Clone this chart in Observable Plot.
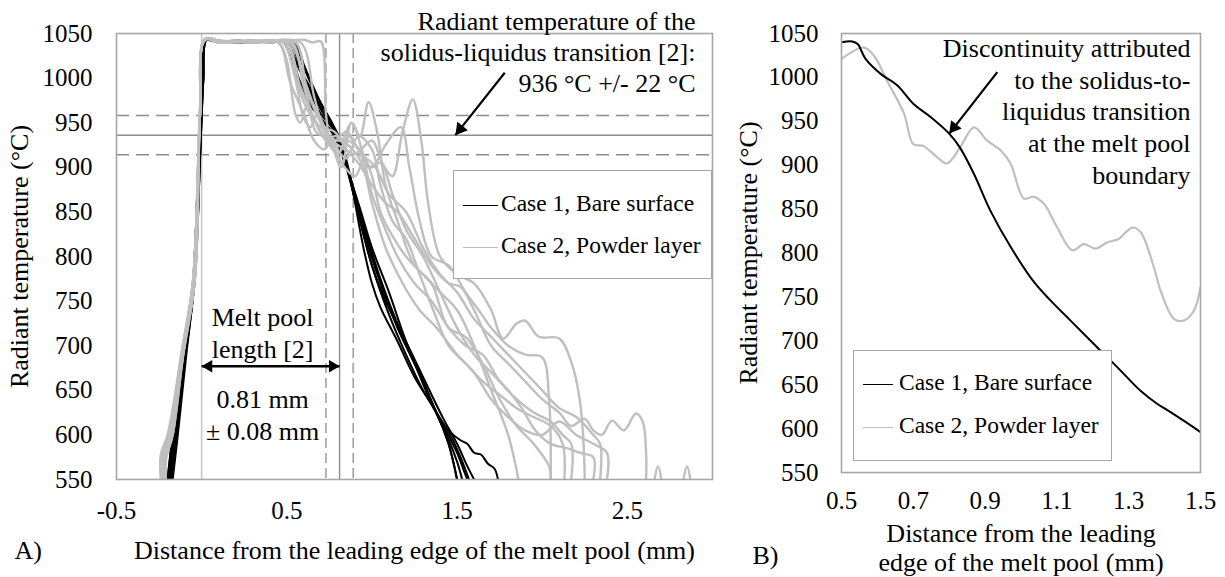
<!DOCTYPE html>
<html><head><meta charset="utf-8">
<script src="https://cdn.jsdelivr.net/npm/d3@7"></script>
<script src="https://cdn.jsdelivr.net/npm/@observablehq/plot@0.6"></script>
<style>
body{margin:0;background:#fff;}
#wrap{position:relative;width:1225px;height:577px;overflow:hidden;font-family:"Liberation Serif","Times New Roman",serif;background:#fff;}
.panel{position:absolute;top:0;}
.legend{position:absolute;box-sizing:border-box;border:1.5px solid #a6a6a6;background:#fff;font-size:23.5px;color:#000;}
.row{position:absolute;left:0;white-space:nowrap;line-height:1;}
.swatch{display:inline-block;vertical-align:middle;height:0;border-top-style:solid;}
</style></head>
<body><div id="wrap"></div>
<script>
// ---------- tick labels / categories ----------
const xTicksA = [-0.5, 0.5, 1.5, 2.5];
const xTicksB = [0.5, 0.7, 0.9, 1.1, 1.3, 1.5];
const yTicks = [550, 600, 650, 700, 750, 800, 850, 900, 950, 1000, 1050];
const seriesNames = ["Case 1, Bare surface", "Case 2, Powder layer"];
const seriesColors = ["#000000", "#bfbfbf"];

// ---------- reference values ----------
const solidusT = 936, solidusErr = 22;
const meltLength = 0.81, meltErr = 0.08, leadingEdge = 0;

// ---------- Panel A, Case 1 (bare surface) runs: [x mm, T °C] ----------
const case1_run1 = [[-0.2,550],[-0.17,600],[-0.11,680],[-0.05,775],[-0.02,900],[0.0,990],[0.02,1043],[0.1,1041],[0.2,1042],[0.3,1040],[0.4,1042],[0.5,1041],[0.53,1030],[0.6,1000],[0.7,965],[0.8,935],[0.85,905],[0.9,865],[1.0,790],[1.1,735],[1.2,690],[1.3,650],[1.38,624],[1.45,590],[1.5,550]];
const case1_run2 = [[-0.19,550],[-0.16,600],[-0.1,685],[-0.05,770],[-0.02,905],[0.0,995],[0.02,1043],[0.1,1042],[0.2,1040],[0.3,1041],[0.4,1040],[0.5,1040],[0.55,1020],[0.62,990],[0.7,960],[0.78,940],[0.85,900],[0.92,850],[1.0,800],[1.1,745],[1.2,700],[1.3,660],[1.38,624],[1.45,595],[1.5,570],[1.53,550]];
const case1_run3 = [[-0.18,550],[-0.15,600],[-0.1,680],[-0.04,775],[-0.01,910],[0.01,1000],[0.03,1043],[0.1,1041],[0.2,1041],[0.3,1042],[0.4,1040],[0.52,1040],[0.58,1010],[0.65,985],[0.72,960],[0.8,935],[0.87,890],[0.95,830],[1.05,770],[1.15,720],[1.25,680],[1.35,635],[1.42,610],[1.5,580],[1.54,560],[1.56,550]];
const case1_run4 = [[-0.2,550],[-0.17,600],[-0.11,685],[-0.05,772],[-0.02,900],[0.0,992],[0.02,1042],[0.1,1040],[0.2,1042],[0.3,1041],[0.4,1041],[0.48,1040],[0.55,1005],[0.62,975],[0.7,955],[0.78,935],[0.84,905],[0.92,860],[1.0,810],[1.1,760],[1.2,705],[1.3,660],[1.38,625],[1.46,600],[1.52,575],[1.57,550]];
const case1_run5 = [[-0.17,550],[-0.14,600],[-0.09,690],[-0.04,778],[-0.01,905],[0.01,998],[0.03,1044],[0.1,1042],[0.2,1041],[0.3,1040],[0.4,1041],[0.5,1040],[0.57,1000],[0.64,970],[0.72,950],[0.8,930],[0.86,895],[0.93,840],[1.0,790],[1.08,750],[1.18,712],[1.28,670],[1.38,625],[1.45,605],[1.52,594],[1.56,590],[1.6,580],[1.64,578],[1.68,568],[1.72,562],[1.74,550]];
const case1_run6 = [[-0.19,550],[-0.16,600],[-0.1,682],[-0.05,770],[-0.02,902],[0.0,993],[0.02,1043],[0.1,1042],[0.2,1040],[0.3,1041],[0.4,1042],[0.55,1040],[0.6,1015],[0.68,980],[0.76,950],[0.82,925],[0.88,880],[0.95,810],[1.0,770],[1.05,743],[1.15,705],[1.25,665],[1.38,624],[1.45,590],[1.5,550]];
const case1_run7 = [[-0.18,550],[-0.15,600],[-0.1,684],[-0.04,774],[-0.01,908],[0.01,997],[0.03,1043],[0.1,1040],[0.2,1042],[0.3,1040],[0.4,1041],[0.54,1040],[0.6,1012],[0.68,978],[0.76,952],[0.82,928],[0.88,885],[0.96,830],[1.05,775],[1.15,725],[1.25,685],[1.35,645],[1.42,618],[1.5,590],[1.56,565],[1.6,550]];

// ---------- Panel A, Case 2 (powder layer) runs ----------
const case2_run1 = [[-0.24,550],[-0.24,578],[-0.2,600],[-0.12,690],[-0.05,775],[-0.01,960],[0.02,1044],[0.1,1040],[0.2,1042],[0.3,1040],[0.4,1041],[0.5,1042],[0.6,1043],[0.65,1040],[0.7,1041],[0.73,960],[0.76,925],[0.8,915],[0.85,930],[0.9,925],[0.95,915],[1.0,890],[1.05,850],[1.1,830],[1.2,800],[1.3,780],[1.4,760],[1.5,740],[1.6,700],[1.7,650],[1.8,600],[1.85,560],[1.86,550]];
const case2_run2 = [[-0.23,550],[-0.23,575],[-0.19,600],[-0.12,688],[-0.05,772],[-0.01,958],[0.02,1043],[0.1,1041],[0.2,1040],[0.3,1042],[0.45,1040],[0.5,1020],[0.55,960],[0.58,950],[0.62,970],[0.67,940],[0.75,930],[0.82,900],[0.88,950],[0.93,935],[0.98,973],[1.03,940],[1.08,880],[1.15,840],[1.25,790],[1.35,770],[1.45,720],[1.55,710],[1.65,680],[1.75,640],[1.85,610],[1.95,590],[2.04,565],[2.05,550]];
const case2_run3 = [[-0.22,550],[-0.22,574],[-0.18,600],[-0.11,690],[-0.04,776],[-0.01,962],[0.02,1044],[0.1,1042],[0.2,1041],[0.3,1040],[0.4,1042],[0.5,1040],[0.58,990],[0.65,960],[0.72,935],[0.8,925],[0.9,915],[1.0,930],[1.06,905],[1.12,890],[1.18,940],[1.24,976],[1.29,930],[1.33,860],[1.4,800],[1.5,780],[1.6,770],[1.7,740],[1.77,708],[1.85,725],[1.9,728],[1.98,710],[2.1,708],[2.18,676],[2.22,640],[2.24,600],[2.25,550]];
const case2_run4 = [[-0.21,550],[-0.21,572],[-0.17,600],[-0.11,688],[-0.04,774],[-0.01,960],[0.02,1043],[0.1,1040],[0.2,1041],[0.3,1042],[0.4,1040],[0.52,1040],[0.6,1000],[0.7,950],[0.78,930],[0.85,940],[0.92,920],[1.0,900],[1.08,925],[1.17,945],[1.22,900],[1.28,840],[1.35,800],[1.45,790],[1.55,760],[1.63,739],[1.7,720],[1.8,700],[1.9,690],[2.0,687],[2.04,640],[2.05,550]];
const case2_run5 = [[-0.22,550],[-0.22,576],[-0.18,600],[-0.12,686],[-0.05,770],[-0.01,957],[0.02,1043],[0.1,1041],[0.2,1040],[0.3,1041],[0.4,1042],[0.55,1040],[0.62,985],[0.7,950],[0.78,925],[0.85,910],[0.92,935],[1.0,920],[1.05,880],[1.12,840],[1.2,820],[1.28,780],[1.36,740],[1.45,700],[1.55,680],[1.65,660],[1.75,645],[1.85,630],[1.95,620],[2.05,610],[2.12,590],[2.13,550]];
const case2_run6 = [[-0.23,550],[-0.23,577],[-0.19,600],[-0.12,689],[-0.05,773],[-0.01,959],[0.02,1044],[0.1,1042],[0.2,1041],[0.3,1040],[0.4,1041],[0.48,1040],[0.55,1000],[0.62,965],[0.7,945],[0.78,940],[0.85,920],[0.92,905],[1.0,880],[1.08,860],[1.15,850],[1.25,820],[1.35,790],[1.45,770],[1.52,766],[1.6,740],[1.7,700],[1.8,680],[1.9,660],[2.0,640],[2.1,625],[2.17,610],[2.25,618],[2.3,605],[2.35,600],[2.41,616],[2.48,605],[2.55,624],[2.59,615],[2.61,580],[2.61,550]];
const case2_run7 = [[-0.22,550],[-0.22,575],[-0.18,600],[-0.11,689],[-0.05,771],[-0.01,958],[0.02,1043],[0.1,1040],[0.2,1042],[0.3,1041],[0.4,1040],[0.5,1040],[0.56,990],[0.6,955],[0.64,945],[0.68,960],[0.75,935],[0.82,930],[0.88,950],[0.94,920],[1.0,870],[1.08,830],[1.15,800],[1.25,770],[1.35,750],[1.45,720],[1.55,700],[1.65,690],[1.75,660],[1.85,640],[1.95,625],[2.05,615],[2.12,600],[2.17,590],[2.17,550]];
const case2_run8 = [[-0.21,550],[-0.21,573],[-0.17,600],[-0.11,687],[-0.04,773],[-0.01,961],[0.02,1044],[0.1,1041],[0.2,1042],[0.3,1040],[0.4,1041],[0.53,1040],[0.6,990],[0.68,945],[0.75,925],[0.8,915],[0.86,935],[0.92,920],[0.98,900],[1.05,905],[1.12,870],[1.2,830],[1.3,800],[1.4,760],[1.5,720],[1.6,690],[1.7,670],[1.8,650],[1.88,630],[1.96,605],[2.05,590],[2.15,585],[2.22,580],[2.3,575],[2.3,550]];
const case2_run9 = [[-0.22,550],[-0.22,576],[-0.18,600],[-0.12,685],[-0.05,772],[-0.01,958],[0.02,1043],[0.1,1042],[0.2,1041],[0.3,1042],[0.4,1040],[0.58,1040],[0.66,980],[0.72,940],[0.78,920],[0.84,900],[0.9,890],[0.96,910],[1.02,900],[1.1,870],[1.2,850],[1.3,810],[1.4,780],[1.5,760],[1.6,730],[1.7,710],[1.8,690],[1.9,670],[2.0,650],[2.1,630],[2.2,620],[2.3,600],[2.34,590],[2.34,550]];
const case2_run10 = [[-0.23,550],[-0.23,578],[-0.19,600],[-0.12,687],[-0.05,774],[-0.01,960],[0.02,1044],[0.1,1040],[0.2,1041],[0.3,1040],[0.45,1040],[0.52,995],[0.6,960],[0.66,930],[0.72,920],[0.78,935],[0.86,925],[0.94,905],[1.0,860],[1.08,810],[1.18,770],[1.28,740],[1.38,720],[1.5,690],[1.6,670],[1.7,640],[1.8,620],[1.9,605],[2.0,600],[2.1,615],[2.2,600],[2.3,590],[2.38,580],[2.38,550]];
const case2_run11 = [[2.66,550],[2.68,565],[2.7,550]];
const case2_run12 = [[2.83,550],[2.85,565],[2.87,550]];

// ---------- Panel B, single traces ----------
const case1_B = [[0.5,1040],[0.53,1041],[0.545,1038],[0.567,1021],[0.609,1004],[0.655,991],[0.70,970],[0.748,955],[0.80,936],[0.83,920],[0.869,890],[0.915,848],[0.971,807],[1.036,767],[1.082,746],[1.138,723],[1.221,689],[1.268,670],[1.333,643],[1.38,628],[1.40,623],[1.453,609],[1.50,596]];
const case2_B = [[0.5,1021],[0.562,1034],[0.59,1025],[0.627,996],[0.674,959],[0.70,924],[0.728,922],[0.767,909],[0.794,902],[0.83,920],[0.869,943],[0.906,928],[0.943,917],[0.971,902],[1.008,862],[1.036,864],[1.064,856],[1.101,829],[1.143,803],[1.175,810],[1.208,805],[1.24,812],[1.272,816],[1.31,829],[1.333,824],[1.37,784],[1.389,757],[1.426,725],[1.453,723],[1.481,734],[1.50,761]];

// ---------- annotations ----------
const annotA = "Radiant temperature of the\nsolidus-liquidus transition [2]:\n936 °C +/- 22 °C";
const annotA_arrow = {from: [1.78, 1006], to: [1.49, solidusT]};
const meltTextTop = "Melt pool\nlength [2]";
const meltTextBottom = "0.81 mm\n± 0.08 mm";
const meltArrowT = 677;
const annotB = "Discontinuity attributed\nto the solidus-to-\nliquidus transition\nat the melt pool\nboundary";
const annotB_arrow = {from: [0.934, 1006], to: [0.80, solidusT]};
const yTitle = "Radiant temperature (°C)";
const xTitleA = "Distance from the leading edge of the melt pool (mm)";
const xTitleB = "Distance from the leading\nedge of the melt pool (mm)";

// ---------- build tables ----------
const case1Runs = [case1_run1, case1_run2, case1_run3, case1_run4, case1_run5, case1_run6, case1_run7];
const case2Runs = [case2_run1, case2_run2, case2_run3, case2_run4, case2_run5, case2_run6, case2_run7, case2_run8, case2_run9, case2_run10, case2_run11, case2_run12];
const toRows = (runs, series) => runs.flatMap((r, i) => r.map(([x, T]) => ({series, run: series + i, x, T})));
const rowsA1 = toRows(case1Runs, seriesNames[0]);
const rowsA2 = toRows(case2Runs, seriesNames[1]);
const rowsB1 = toRows([case1_B], seriesNames[0]);
const rowsB2 = toRows([case2_B], seriesNames[1]);

const FONT = "Liberation Serif, Times New Roman, serif";
const fmt = d => d.toFixed(1);
const fmtY = d => String(d);

// filled arrow head helper, using Plot scales
function headMarks(from, to, sx, sy, r) {
  const px0 = sx.apply(from[0]), py0 = sy.apply(from[1]);
  const px1 = sx.apply(to[0]), py1 = sy.apply(to[1]);
  const dx = px1 - px0, dy = py1 - py0, L = Math.hypot(dx, dy);
  const ux = dx / L, uy = dy / L;
  const ang = Math.atan2(ux, -uy) * 180 / Math.PI;
  const yy = Math.sqrt(r * r * Math.PI / (Math.sqrt(3) * 3));
  const off = 2 * yy;
  return [
    Plot.link([0], {x1: () => from[0], y1: () => from[1], x2: () => to[0], y2: () => to[1], stroke: "#000", strokeWidth: 2.2}),
    Plot.dot([0], {x: () => to[0], y: () => to[1], symbol: "triangle", r, fill: "#000", stroke: "none", rotate: ang, dx: -ux * off, dy: -uy * off})
  ];
}

// ---------- Panel A ----------
const A = {width: 740, height: 577, ml: 116, mr: 28, mt: 33, mb: 98, xd: [-0.5, 3.0]};
const sxA = Plot.scale({x: {domain: A.xd, range: [A.ml, A.width - A.mr]}});
const syA = Plot.scale({y: {domain: [550, 1050], range: [A.height - A.mb, A.mt]}});

const plotA = Plot.plot({
  width: A.width, height: A.height,
  marginLeft: A.ml, marginRight: A.mr, marginTop: A.mt, marginBottom: A.mb,
  style: {fontFamily: FONT, fontSize: "25px", color: "#000", background: "transparent", overflow: "visible"},
  x: {domain: A.xd, ticks: xTicksA, tickFormat: fmt, tickSize: 0, tickPadding: 22, label: null},
  y: {domain: [550, 1050], ticks: yTicks, tickFormat: fmtY, tickSize: 0, tickPadding: 24, label: null},
  marks: [
    Plot.ruleY([solidusT + solidusErr, solidusT - solidusErr], {stroke: "#8c8c8c", strokeWidth: 1.4, strokeDasharray: "13,7"}),
    Plot.ruleY([solidusT], {stroke: "#8c8c8c", strokeWidth: 1.4}),
    Plot.ruleX([leadingEdge], {stroke: "#c8c8c8", strokeWidth: 1.6}),
    Plot.ruleX([meltLength - meltErr, meltLength + meltErr], {stroke: "#8c8c8c", strokeWidth: 1.3, strokeDasharray: "10,5"}),
    Plot.ruleX([meltLength], {stroke: "#8c8c8c", strokeWidth: 1.4}),
    Plot.line(rowsA1, {x: "x", y: "T", z: "run", stroke: seriesColors[0], strokeWidth: 2, curve: "catmull-rom", clip: true}),
    Plot.line(rowsA2, {x: "x", y: "T", z: "run", stroke: seriesColors[1], strokeWidth: 2.4, curve: "catmull-rom", clip: true}),
    Plot.frame({stroke: "#a6a6a6", strokeWidth: 1.6}),
    Plot.text([annotA], {frameAnchor: "top-right", textAnchor: "end", lineAnchor: "top", dx: -17, dy: -26, lineHeight: 1.2, fontSize: 26, fill: "#000"}),
    ...headMarks(annotA_arrow.from, annotA_arrow.to, sxA, syA, 5),
    Plot.link([0], {x1: () => leadingEdge, x2: () => meltLength, y1: () => meltArrowT, y2: () => meltArrowT, stroke: "#000", strokeWidth: 2.6}),
    Plot.dot([0], {x: () => meltLength, y: () => meltArrowT, symbol: "triangle", r: 4.6, fill: "#000", stroke: "none", rotate: 90, dx: -7}),
    Plot.dot([0], {x: () => leadingEdge, y: () => meltArrowT, symbol: "triangle", r: 4.6, fill: "#000", stroke: "none", rotate: -90, dx: 7}),
    Plot.text([meltTextTop], {x: () => meltLength / 2, y: () => meltArrowT, lineAnchor: "bottom", dx: -8, dy: -8, lineHeight: 1.23, fontSize: 26, fill: "#000"}),
    Plot.text([meltTextBottom], {x: () => meltLength / 2, y: () => meltArrowT, lineAnchor: "top", dx: -8, dy: 19, lineHeight: 1.23, fontSize: 26, fill: "#000"}),
    Plot.text([xTitleA], {frameAnchor: "bottom", lineAnchor: "middle", dy: 71, fontSize: 26, fill: "#000"}),
    Plot.text(["A)"], {frameAnchor: "bottom-left", textAnchor: "start", lineAnchor: "middle", dx: -102, dy: 71, fontSize: 26, fill: "#000"}),
    Plot.text([yTitle], {frameAnchor: "left", textAnchor: "middle", rotate: -90, lineAnchor: "middle", dx: -97, fontSize: 26, fill: "#000"})
  ]
});

// ---------- Panel B ----------
const B = {left: 740, width: 485, height: 577, ml: 101, mr: 25, mt: 33, mb: 105, xd: [0.5, 1.5]};
const sxB = Plot.scale({x: {domain: B.xd, range: [B.ml, B.width - B.mr]}});
const syB = Plot.scale({y: {domain: [550, 1050], range: [B.height - B.mb, B.mt]}});

const plotB = Plot.plot({
  width: B.width, height: B.height,
  marginLeft: B.ml, marginRight: B.mr, marginTop: B.mt, marginBottom: B.mb,
  style: {fontFamily: FONT, fontSize: "25px", color: "#000", background: "transparent", overflow: "visible"},
  x: {domain: B.xd, ticks: xTicksB, tickFormat: fmt, tickSize: 0, tickPadding: 19, label: null},
  y: {domain: [550, 1050], ticks: yTicks, tickFormat: fmtY, tickSize: 0, tickPadding: 23, label: null},
  marks: [
    Plot.line(rowsB2, {x: "x", y: "T", stroke: seriesColors[1], strokeWidth: 2.2, curve: "catmull-rom", clip: true}),
    Plot.line(rowsB1, {x: "x", y: "T", stroke: seriesColors[0], strokeWidth: 2, curve: "catmull-rom", clip: true}),
    Plot.frame({stroke: "#a6a6a6", strokeWidth: 1.6}),
    Plot.text([annotB], {frameAnchor: "top-right", textAnchor: "end", lineAnchor: "top", dx: -10, dy: 1, lineHeight: 1.22, fontSize: 26, fill: "#000"}),
    ...headMarks(annotB_arrow.from, annotB_arrow.to, sxB, syB, 5),
    Plot.text([xTitleB], {frameAnchor: "bottom", lineAnchor: "middle", dy: 75, lineHeight: 1.12, fontSize: 26, fill: "#000"}),
    Plot.text(["B)"], {frameAnchor: "bottom-left", textAnchor: "start", lineAnchor: "middle", dx: -89, dy: 83, fontSize: 26, fill: "#000"}),
    Plot.text([yTitle], {frameAnchor: "left", textAnchor: "middle", rotate: -90, lineAnchor: "middle", dx: -93, fontSize: 26, fill: "#000"})
  ]
});

const wrap = document.getElementById("wrap");
plotA.classList.add("panel"); plotA.style.left = "0px";
plotB.classList.add("panel"); plotB.style.left = B.left + "px";
wrap.appendChild(plotA); wrap.appendChild(plotB);

// ---------- legends (HTML) ----------
function legend(box, rows, sw) {
  const d = document.createElement("div");
  d.className = "legend";
  Object.assign(d.style, {left: box[0] + "px", top: box[1] + "px", width: box[2] + "px", height: box[3] + "px"});
  seriesNames.forEach((name, i) => {
    const r = document.createElement("div");
    r.className = "row";
    r.style.top = (rows[i] - box[1] - 12) + "px";
    r.style.left = sw[0] + "px";
    const s = document.createElement("span");
    s.className = "swatch";
    s.style.width = sw[1] + "px";
    s.style.borderTopColor = seriesColors[i];
    s.style.borderTopWidth = "1.8px";
    s.style.marginRight = sw[2] + "px";
    r.appendChild(s);
    r.appendChild(document.createTextNode(name));
    d.appendChild(r);
  });
  wrap.appendChild(d);
}
legend([453, 170, 259, 109], [203, 245], [9, 35, 3]);
legend([853, 350, 259, 111], [382, 425], [9, 30, 6]);
</script>
</body></html>
